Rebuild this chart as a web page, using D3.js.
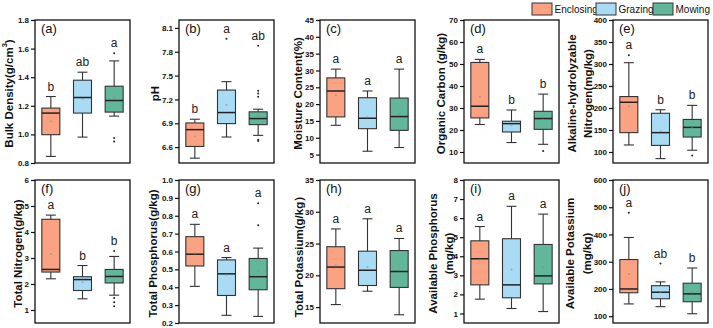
<!DOCTYPE html>
<html>
<head>
<meta charset="utf-8">
<script src="https://cdn.jsdelivr.net/npm/d3@7"></script>
<style>
  body { margin: 0; background: #fff; }
  svg { font-family: Arial, "Liberation Sans", sans-serif; }
</style>
</head>
<body>
<div id="chart"></div>
<script>
const groups = ['Enclosing', 'Grazing', 'Mowing'];
const groupColors = ['#FBA283', '#A9DBF5', '#62B79B'];
const panelTags = ['(a)', '(b)', '(c)', '(d)', '(e)', '(f)', '(g)', '(h)', '(i)', '(j)'];
const yTitles = [
  ['Bulk Density(g/cm§)'],
  ['pH'],
  ['Moisture Content(%)'],
  ['Organic Carbon (g/kg)'],
  ['Alkaline-hydrolyzable', 'Nitrogen(mg/kg)'],
  ['Total Nitrogen(g/kg)'],
  ['Total Phosphorus(g/kg)'],
  ['Total Potassium(g/kg）'],
  ['Available Phosphorus', '(mg/kg)'],
  ['Available Potassium', '(mg/kg)']
];
const yMin = [0.8, 6.4, 2.5, 5, 75, 0.5, 0.2, 12.5, 0.5, 75];
const yMax = [1.8, 8.2, 45, 70, 400, 6, 1.0, 35, 8, 600];
const yTicks = [
  [0.8, 1.0, 1.2, 1.4, 1.6, 1.8],
  [6.6, 6.9, 7.2, 7.5, 7.8, 8.1],
  [5, 10, 15, 20, 25, 30, 35, 40, 45],
  [10, 20, 30, 40, 50, 60, 70],
  [100, 150, 200, 250, 300, 350, 400],
  [1, 2, 3, 4, 5, 6],
  [0.2, 0.3, 0.4, 0.5, 0.6, 0.7, 0.8, 0.9, 1.0],
  [15, 20, 25, 30, 35],
  [1, 2, 3, 4, 5, 6, 7, 8],
  [100, 200, 300, 400, 500, 600]
];
const tickFormats = ['.1f', '.1f', 'd', 'd', 'd', 'd', '.1f', 'd', 'd', 'd'];

const whiskerLow = [
  [0.846, 0.981, 1.128], [6.461, 6.727, 6.748], [13.7, 6.0, 7.1], [22.5, 14.3, 13.5], [116, 85, 104],
  [2.20, 1.43, 1.57], [0.405, 0.243, 0.237], [15.4, 17.5, 13.8], [1.75, 1.26, 1.10], [145, 135, 109]
];
const q1 = [
  [0.998, 1.149, 1.156], [6.608, 6.896, 6.883], [16.2, 12.7, 12.2], [25.5, 19.1, 20.3], [144, 115, 134],
  [2.46, 1.75, 2.04], [0.519, 0.354, 0.386], [17.9, 18.4, 18.1], [2.50, 1.82, 2.55], [186, 164, 153]
];
const median = [
  [1.149, 1.258, 1.237], [6.820, 7.035, 6.959], [23.9, 15.8, 16.3], [30.8, 22.9, 25.2], [213, 144, 156],
  [2.56, 2.17, 2.29], [0.585, 0.475, 0.459], [21.3, 20.8, 20.6], [3.87, 2.50, 2.97], [200, 188, 182]
];
const q3 = [
  [1.184, 1.379, 1.337], [6.904, 7.318, 7.044], [27.8, 21.9, 21.8], [50.7, 24.0, 28.5], [226, 188, 174],
  [4.49, 2.28, 2.56], [0.683, 0.553, 0.561], [24.5, 23.8, 23.9], [4.81, 4.92, 4.62], [308, 212, 221]
];
const whiskerHigh = [
  [1.265, 1.435, 1.514], [6.951, 7.424, 7.077], [30.4, 23.9, 30.4], [52.1, 29.1, 36.3], [303, 196, 206],
  [4.65, 2.71, 3.06], [0.752, 0.566, 0.619], [27.3, 28.9, 25.8], [5.56, 6.62, 6.21], [389, 226, 277]
];
const means = [
  [1.09, 1.25, 1.258], [6.735, 7.13, 7.0], [22.6, 16.1, 17.1], [35.1, 22.2, 24.7], [204, 147, 155],
  [3.14, 2.07, 2.24], [0.59, 0.47, 0.492], [21.5, 21.3, 20.8], [3.82, 3.30, 3.42], [255, 187, 187]
];
const outliers = [
  [[], [], [1.567, 0.974, 0.951]],
  [[], [7.965], [7.876, 7.31, 7.276, 7.234, 6.693, 6.676]],
  [[], [], []],
  [[], [], [10.5]],
  [[320], [], [92]],
  [[], [], [3.27, 1.46, 1.30, 1.14]],
  [[], [], [0.870, 0.747]],
  [[], [], []],
  [[], [], []],
  [[480], [293], []]
];
const letters = [
  ['b', 'ab', 'a'], ['b', 'a', 'ab'], ['a', 'a', 'a'], ['a', 'b', 'b'], ['a', 'b', 'b'],
  ['a', 'b', 'b'], ['a', 'a', 'a'], ['a', 'a', 'a'], ['a', 'a', 'a'], ['a', 'ab', 'b']
];

const colLeft = [35, 179, 320, 464, 613];
const rowTop = [20, 180];
const panelW = 95, panelH = 143;
const titleX = [[-26], [-24], [-22], [-23], [-41, -25], [-17], [-26], [-21.5], [-31, -15], [-43, -26]];
const boxW = 18, capW = 10;

const svg = d3.select('#chart').append('svg')
  .attr('width', 713)
  .attr('height', 328);

panelTags.forEach((tag, i) => {
  const g = svg.append('g')
    .attr('transform', 'translate(' + colLeft[i % 5] + ',' + rowTop[Math.floor(i / 5)] + ')');

  const y = d3.scaleLinear().domain([yMin[i], yMax[i]]).range([panelH, 0]);
  const x = d3.scalePoint().domain(groups).range([0, panelW]).padding(0.5);

  const axis = g.append('g')
    .call(d3.axisLeft(y).tickValues(yTicks[i]).tickSize(4).tickPadding(2).tickFormat(d3.format(tickFormats[i])));
  axis.select('.domain').remove();
  axis.selectAll('text').attr('font-size', 8).attr('font-weight', 'bold').attr('fill', '#111');
  axis.selectAll('line').attr('stroke', '#111').attr('stroke-width', 1.2);

  // y title, one or two lines
  yTitles[i].forEach((line, k) => {
    const t = g.append('text')
      .attr('transform', 'translate(' + titleX[i][k] + ',' + (panelH / 2 + 2) + ') rotate(-90)')
      .attr('text-anchor', 'middle')
      .attr('dominant-baseline', 'central')
      .attr('font-size', 11.5)
      .attr('font-weight', 'bold')
      .style('fill', '#111');
    if (line.includes('§')) {
      const parts = line.split('§');
      t.append('tspan').text(parts[0]);
      t.append('tspan').attr('baseline-shift', 'super').attr('font-size', 7.5).text('3');
      t.append('tspan').text(')');
    } else {
      t.text(line);
    }
  });

  groups.forEach((grp, j) => {
    const cx = x(grp);
    const b = g.append('g');
    b.append('line')
      .attr('x1', cx).attr('x2', cx)
      .attr('y1', y(whiskerHigh[i][j])).attr('y2', y(whiskerLow[i][j]))
      .attr('stroke', '#333').attr('stroke-width', 1.1);
    [whiskerHigh[i][j], whiskerLow[i][j]].forEach(v => {
      b.append('line')
        .attr('x1', cx - capW / 2).attr('x2', cx + capW / 2)
        .attr('y1', y(v)).attr('y2', y(v))
        .attr('stroke', '#333').attr('stroke-width', 1.1);
    });
    b.append('rect')
      .attr('x', cx - boxW / 2)
      .attr('y', y(q3[i][j]))
      .attr('width', boxW)
      .attr('height', y(q1[i][j]) - y(q3[i][j]))
      .attr('fill', groupColors[j])
      .attr('stroke', '#333')
      .attr('stroke-width', 1.1);
    b.append('line')
      .attr('x1', cx - boxW / 2).attr('x2', cx + boxW / 2)
      .attr('y1', y(median[i][j])).attr('y2', y(median[i][j]))
      .attr('stroke', '#222').attr('stroke-width', 1.5);
    b.append('circle')
      .attr('cx', cx).attr('cy', y(means[i][j])).attr('r', 1)
      .attr('fill', '#888').attr('opacity', 0.6);
    b.selectAll('.out')
      .data(outliers[i][j])
      .enter().append('circle')
      .attr('class', 'out')
      .attr('cx', cx).attr('cy', d => y(d)).attr('r', 1)
      .attr('fill', '#222');
    const top = d3.max([whiskerHigh[i][j]].concat(outliers[i][j]));
    b.append('text')
      .attr('x', cx)
      .attr('y', y(top) - 6)
      .attr('text-anchor', 'middle')
      .attr('font-size', 12)
      .style('fill', '#222')
      .text(letters[i][j]);
  });

  g.append('rect')
    .attr('width', panelW)
    .attr('height', panelH)
    .attr('fill', 'none')
    .attr('stroke', '#111')
    .attr('stroke-width', 1.3);

  g.append('text')
    .attr('x', 6)
    .attr('y', 12.5)
    .attr('font-size', 13)
    .style('fill', '#111')
    .text(tag);
});

// legend
const legX = [532, 596, 653];
const legend = svg.append('g');
groups.forEach((grp, j) => {
  legend.append('rect')
    .attr('x', legX[j]).attr('y', 3)
    .attr('width', 20).attr('height', 12)
    .attr('fill', groupColors[j])
    .attr('stroke', '#333')
    .attr('stroke-width', 1);
  legend.append('text')
    .attr('x', legX[j] + 22.5)
    .attr('y', 13)
    .attr('font-size', 10)
    .style('fill', '#111')
    .text(grp);
});
</script>
</body>
</html>
